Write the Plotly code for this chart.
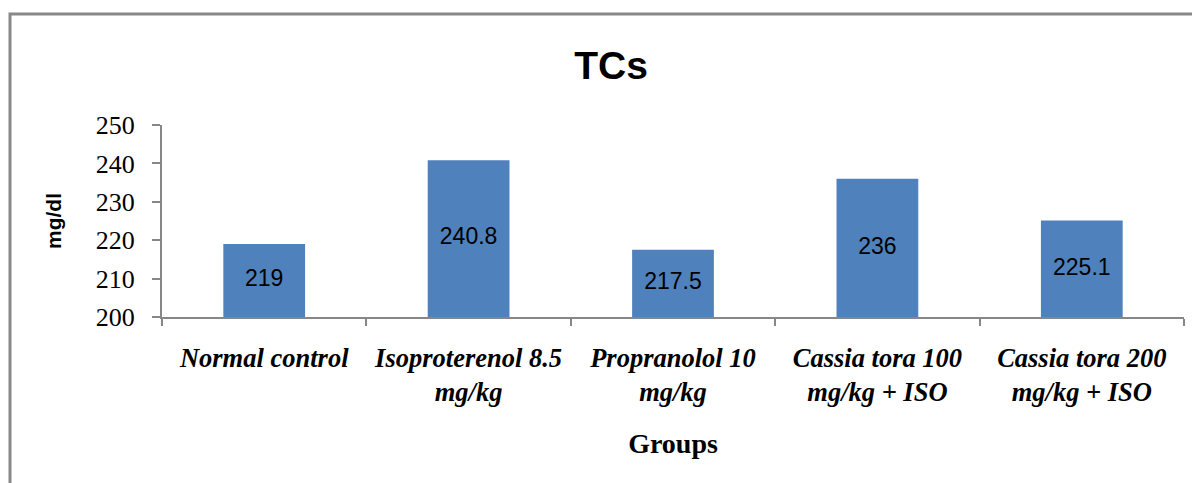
import plotly.graph_objects as go

categories = ["Normal control", "Isoproterenol 8.5<br>mg/kg", "Propranolol 10<br>mg/kg",
              "Cassia tora 100<br>mg/kg + ISO", "Cassia tora 200<br>mg/kg + ISO"]
values = [219, 240.8, 217.5, 236, 225.1]
value_labels = ["219", "240.8", "217.5", "236", "225.1"]
y_ticks = [200, 210, 220, 230, 240, 250]
y_min, y_max = 200, 250

# the page has an 8px body margin, so figure coords = page coords - 8
W, H = 1192, 475
L, R, T, B = 154, 16, 117, 166
pw, ph = W - L - R, H - T - B

fig = go.Figure()
fig.add_trace(go.Bar(
    x=categories, y=values,
    marker=dict(color="#4F81BD", line=dict(width=0)),
    hoverinfo="x+y",
))
# value labels centred in the visible part of each bar
fig.add_trace(go.Scatter(
    x=categories, y=[(v + y_min) / 2 for v in values], text=value_labels,
    mode="text", textposition="middle center",
    textfont=dict(family="Liberation Sans", size=23, color="#000000"),
    hoverinfo="skip", cliponaxis=False,
))

axis_gray = "#878787"
fig.update_layout(
    width=W, height=H,
    margin=dict(l=L, r=R, t=T, b=B),
    paper_bgcolor="white", plot_bgcolor="white",
    bargap=0.6, showlegend=False,
    xaxis=dict(
        showline=True, linecolor=axis_gray, linewidth=2,
        ticks="outside", tickson="boundaries", ticklen=7, tickcolor=axis_gray, tickwidth=2,
        ticklabelstandoff=16,
        tickfont=dict(family="Liberation Serif", size=26.5, color="#000", weight="bold", style="italic"),
        title=dict(text="Groups", font=dict(family="Liberation Serif", size=28, color="#000", weight="bold"), standoff=27),
        showgrid=False,
    ),
    yaxis=dict(
        range=[y_min, y_max], tickvals=y_ticks,
        showline=True, linecolor=axis_gray, linewidth=2,
        ticks="outside", ticklen=8, tickcolor=axis_gray, tickwidth=2,
        ticklabelstandoff=12,
        tickfont=dict(family="Liberation Serif", size=26, color="#000"),
        title=dict(text="mg/dl", font=dict(family="Liberation Sans", size=21, color="#000", weight="bold"), standoff=28),
        showgrid=False, zeroline=False,
    ),
    title=dict(text="TCs", x=603 / W, xanchor="center", y=1 - 57 / H, yanchor="middle",
               font=dict(family="Liberation Sans", size=39, color="#000", weight="bold")),
)

def px_x(x):
    return (x - L) / pw

def px_y(y):
    return (H - B - y) / ph

# outer chart-area frame
fig.add_shape(type="rect", xref="paper", yref="paper",
              x0=px_x(2), x1=px_x(1210), y0=px_y(6), y1=px_y(500),
              line=dict(color="#888888", width=3), fillcolor="rgba(0,0,0,0)", layer="below")

fig.write_html("out.html")
